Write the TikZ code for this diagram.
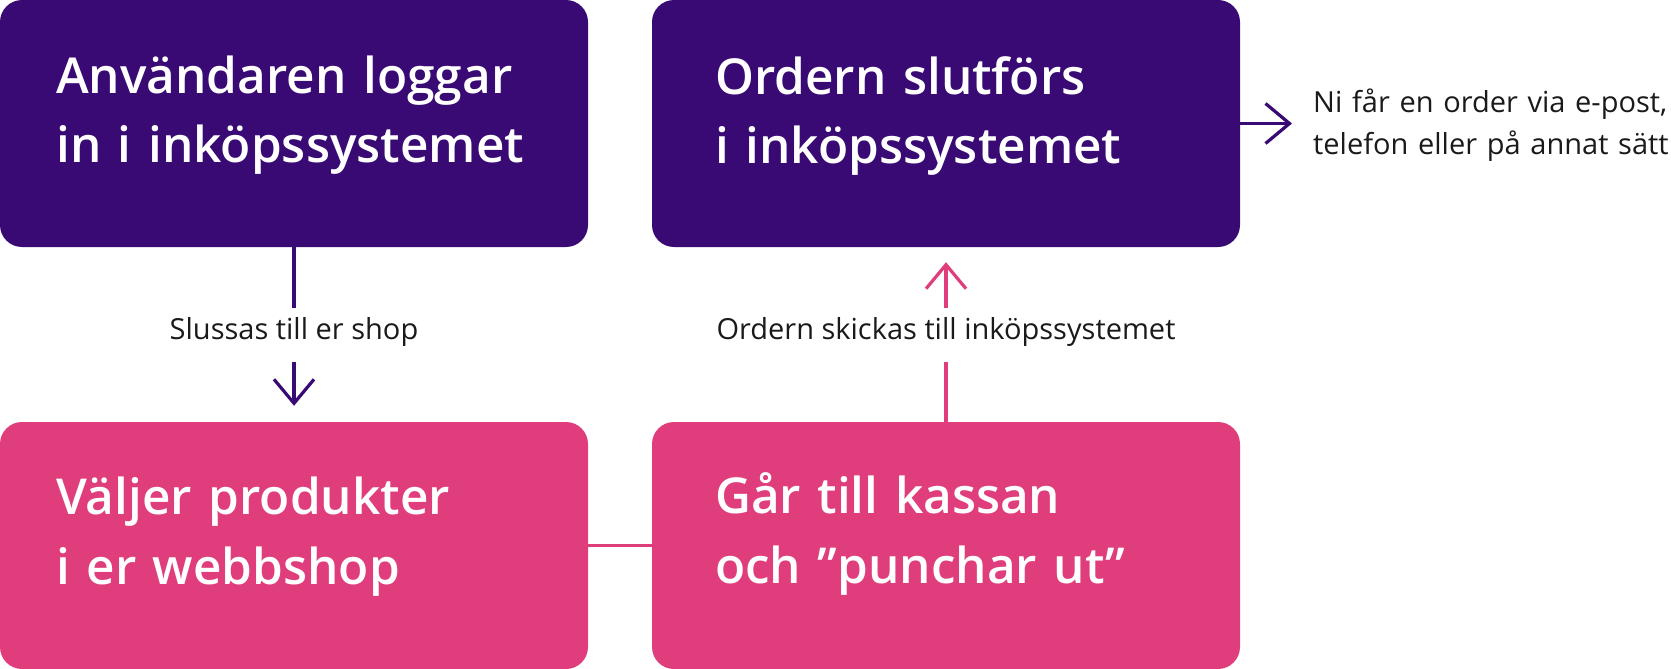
\documentclass[tikz,border=0pt]{standalone}
\usepackage{fontspec}
\setmainfont{Open Sans}
\IfFontExistsTF{Open Sans SemiBold}{\newfontfamily\headfont{Open Sans SemiBold}\def\headsize{49.5}}{%
  \IfFontExistsTF{Open Sans Semibold}{\newfontfamily\headfont{Open Sans Semibold}\def\headsize{49.5}}{%
    \newfontfamily\headfont{Open Sans}[UprightFont=*-Bold]\def\headsize{47}}}
\usetikzlibrary{arrows.meta}
\definecolor{dpurple}{RGB}{57,10,115}
\definecolor{mpink}{RGB}{224,61,124}
\definecolor{inktext}{RGB}{26,26,26}
\tikzset{
  stepbox/.style={rectangle, rounded corners=22pt, minimum width=588pt, minimum height=247pt, inner sep=0pt, draw=none},
  boxtext/.style={anchor=base west, inner sep=0pt, text width=560pt, align=left, text=white,
    font=\headfont\fontsize{\headsize}{70}\selectfont},
  conn/.style={line width=3.2pt},
  tip/.style={-{Straight Barb[length=24pt,width=40pt]}},
  lbl/.style={fill=white, text=inktext, font=\fontsize{29}{35}\selectfont,
    text height=18pt, text depth=9pt, inner ysep=13.5pt, inner xsep=8pt},
  note/.style={anchor=base west, inner sep=0pt, text width=400pt, align=left, text=inktext,
    font=\fontsize{29}{43}\selectfont}
}
\begin{document}
\begin{tikzpicture}[x=1pt,y=-1pt]
\useasboundingbox (0,0) rectangle (1671,669);
\node[stepbox, fill=dpurple] (b1) at (294,123.5) {};
\node[stepbox, fill=dpurple] (b2) at (946,123.5) {};
\node[stepbox, fill=mpink] (b3) at (294,545.5) {};
\node[stepbox, fill=mpink] (b4) at (946,545.5) {};
\node[boxtext] (t1) at (56,93) {Användaren loggar\\in i inköpssystemet};
\node[boxtext] (t2) at (715,94) {Ordern slutförs\\i inköpssystemet};
\node[boxtext] (t3) at (56,514) {Väljer produkter\\i er webbshop};
\node[boxtext] (t4) at (715,513) {Går till kassan\\och ”punchar ut”};
\draw[conn, dpurple, tip, shorten >=16pt] (b1.south) -- node[lbl] (l1) {Slussas till er shop} (b3.north);
\draw[conn, mpink, tip, shorten >=15pt] (b4.north) -- node[lbl] (l2) {Ordern skickas till inköpssystemet} (b2.south);
\draw[conn, mpink] (b3.east) -- (b4.west);
\coordinate (rt) at (1292,123.5);
\draw[conn, dpurple, tip] (b2.east) -- (rt);
\node[note] (n1) at (1313,112) {Ni får en order via e-post,\\telefon eller på annat sätt};
\end{tikzpicture}
\end{document}
